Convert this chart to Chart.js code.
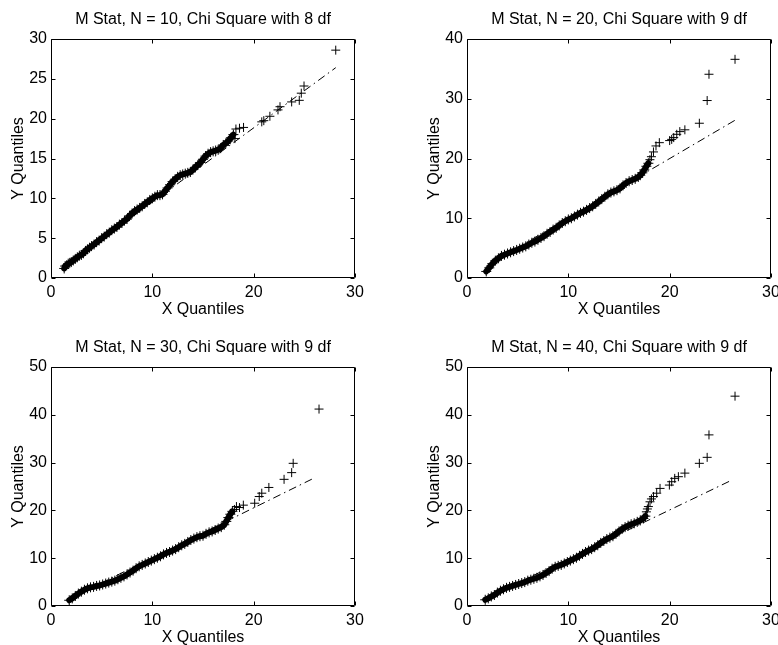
<!DOCTYPE html>
<html>
<head>
<meta charset="utf-8">
<script src="https://cdn.jsdelivr.net/npm/chart.js@4"></script>
<style>
  html, body { margin: 0; padding: 0; background: #fff; overflow: hidden; }
  .panel { position: absolute; }
</style>
</head>
<body>
<div class="panel" style="left:0;top:0"><canvas id="c10" width="389" height="320"></canvas></div>
<div class="panel" style="left:389px;top:0"><canvas id="c20" width="389" height="320"></canvas></div>
<div class="panel" style="left:0;top:320px"><canvas id="c30" width="389" height="328"></canvas></div>
<div class="panel" style="left:389px;top:320px"><canvas id="c40" width="389" height="328"></canvas></div>
<script>
// panel titles and axis limits
const titles = [
    "M Stat, N = 10, Chi Square with 8 df",
    "M Stat, N = 20, Chi Square with 9 df",
    "M Stat, N = 30, Chi Square with 9 df",
    "M Stat, N = 40, Chi Square with 9 df"
];
const xMax = 30;
const xStep = 10;
const yMax = [30, 40, 50, 50];
const yStep = [5, 10, 10, 10];

// N = 10 : dense part of the quantile cloud, then the sparse upper tail
const n10BandX = [1.3,1.4,1.55,1.7,1.85,2.0,2.2,2.4,2.6,2.8,3.0,3.2,3.4,3.6,3.8,4.0,4.25,4.5,4.75,5.0,5.25,5.5,5.75,6.0,6.25,6.5,6.75,7.0,7.25,7.5,7.75,8.0,8.25,8.5,8.75,9.0,9.25,9.5,9.75,10.0,10.25,10.5,10.75,11.0,11.25,11.5,11.75,12.0,12.25,12.5,12.75,13.0,13.25,13.5,13.75,14.0,14.25,14.5,14.75,15.0,15.25,15.5,15.75,16.0,16.25,16.5,16.75,17.0,17.25,17.5,17.75,18.0];
const n10BandY = [1.2,1.5,1.6,1.8,1.9,2.0,2.2,2.4,2.6,2.8,2.9,3.1,3.4,3.6,3.8,4.0,4.2,4.5,4.7,5.0,5.2,5.5,5.7,6.0,6.2,6.4,6.7,6.9,7.2,7.4,7.8,8.1,8.4,8.6,8.8,9.0,9.3,9.5,9.8,10.0,10.2,10.4,10.4,10.5,10.9,11.3,11.7,12.1,12.4,12.7,12.9,13.0,13.1,13.2,13.3,13.6,13.9,14.2,14.5,14.9,15.3,15.6,15.8,15.9,16.0,16.1,16.3,16.7,16.9,17.2,17.6,18.0];
const n10TailX = [18.15,18.25,18.6,19.0,20.8,21.0,21.6,22.4,22.6,23.75,24.5,24.7,24.97,28.1];
const n10TailY = [17.5,18.7,18.8,18.9,19.6,19.75,20.3,21.1,21.5,22.1,22.3,23.2,24.1,28.6];
const n10LineX = [1.3, 28.1];
const n10LineY = [1.4, 26.4];

// N = 20
const n20BandX = [1.9,2.2,2.5,2.8,3.1,3.4,3.7,4.0,4.3,4.6,4.9,5.2,5.5,5.8,6.1,6.4,6.7,7.0,7.3,7.6,7.9,8.2,8.5,8.8,9.1,9.4,9.7,10.0,10.3,10.6,10.9,11.2,11.5,11.8,12.1,12.4,12.7,13.0,13.3,13.6,13.9,14.2,14.5,14.8,15.1,15.4,15.7,16.0,16.3,16.6,16.9,17.1,17.3,17.5,17.7,17.9];
const n20BandY = [1.1,1.7,2.4,2.9,3.3,3.7,3.9,4.1,4.3,4.5,4.7,4.9,5.1,5.3,5.6,5.9,6.1,6.4,6.7,7.0,7.4,7.7,8.1,8.4,8.8,9.2,9.5,9.8,10.0,10.3,10.6,10.9,11.1,11.4,11.7,12.0,12.4,12.8,13.2,13.6,14.0,14.3,14.5,14.7,15.0,15.5,15.9,16.2,16.4,16.6,16.9,17.2,17.6,18.1,18.7,19.2];
const n20TailX = [18.05,18.2,18.4,18.65,18.98,20.0,20.2,20.4,20.7,21.0,21.5,22.93,23.7,23.88,26.45];
const n20TailY = [19.8,20.3,21.1,22.1,22.65,23.0,23.2,23.5,24.05,24.5,24.8,25.9,29.7,34.1,36.6];
const n20LineX = [1.9, 26.45];
const n20LineY = [2.0, 26.4];

// N = 30
const n30BandX = [1.8,2.1,2.4,2.7,3.0,3.3,3.6,3.9,4.2,4.5,4.8,5.1,5.4,5.7,6.0,6.3,6.6,6.9,7.2,7.5,7.8,8.1,8.4,8.7,9.0,9.3,9.6,9.9,10.2,10.5,10.8,11.1,11.4,11.7,12.0,12.3,12.6,12.9,13.2,13.5,13.8,14.1,14.4,14.7,15.0,15.3,15.6,15.9,16.2,16.5,16.8,17.1,17.3,17.5,17.7,17.9];
const n30BandY = [1.2,1.6,2.1,2.6,3.0,3.4,3.7,3.9,4.0,4.2,4.3,4.5,4.7,4.9,5.1,5.3,5.6,5.9,6.2,6.6,7.0,7.4,7.9,8.3,8.6,8.9,9.2,9.5,9.8,10.1,10.4,10.8,11.1,11.3,11.6,11.9,12.3,12.7,13.0,13.4,13.8,14.1,14.4,14.6,14.7,15.1,15.4,15.6,15.9,16.2,16.5,17.0,17.7,18.5,19.2,19.8];
const n30TailX = [18.1,18.3,18.6,18.98,20.1,20.55,20.8,21.5,23.0,23.75,23.9,26.45];
const n30TailY = [20.2,20.8,20.6,21.1,21.5,22.9,23.6,24.8,26.5,27.9,29.85,41.2];
const n30LineX = [1.8, 25.9];
const n30LineY = [1.5, 26.7];

// N = 40
const n40BandX = [1.8,2.1,2.4,2.7,3.0,3.3,3.6,3.9,4.2,4.5,4.8,5.1,5.4,5.7,6.0,6.3,6.6,6.9,7.2,7.5,7.8,8.1,8.4,8.7,9.0,9.3,9.6,9.9,10.2,10.5,10.8,11.1,11.4,11.7,12.0,12.3,12.6,12.9,13.2,13.5,13.8,14.1,14.4,14.7,15.0,15.3,15.6,15.9,16.2,16.5,16.8,17.1,17.4,17.6];
const n40BandY = [1.3,1.6,2.0,2.3,2.8,3.2,3.5,3.8,4.0,4.2,4.4,4.6,4.8,5.0,5.3,5.5,5.7,5.9,6.2,6.5,6.9,7.3,7.8,8.2,8.4,8.6,8.9,9.2,9.5,9.8,10.1,10.5,10.9,11.3,11.6,11.9,12.3,12.7,13.2,13.6,14.0,14.3,14.6,15.1,15.6,16.1,16.5,16.8,17.1,17.3,17.6,17.9,18.3,18.8];
const n40TailX = [17.7,17.8,17.9,18.06,18.2,18.4,18.72,19.05,19.97,20.2,20.5,20.86,21.5,22.93,23.7,23.88,26.45];
const n40TailY = [19.7,20.3,20.8,21.8,22.4,22.9,23.6,24.6,25.3,26.0,26.7,27.05,27.8,29.85,31.1,35.8,43.9];
const n40LineX = [1.8, 26.0];
const n40LineY = [1.55, 26.2];

const FONT = "'Liberation Sans', Arial, Helvetica, sans-serif";
const pts = (xs, ys) => xs.map((x, i) => ({ x: x, y: ys[i] }));

// matlab style box with inward ticks on all four sides
const matlabBox = {
    id: "matlabBox",
    afterDraw(chart) {
        const { ctx, chartArea: a, scales: { x, y } } = chart;
        const len = 4;
        const L = Math.round(a.left) + 0.5, R = Math.round(a.right) - 0.5;
        const T = Math.round(a.top) + 0.5, B = Math.round(a.bottom) - 0.5;
        ctx.save();
        ctx.strokeStyle = "#000";
        ctx.lineWidth = 1;
        ctx.beginPath();
        ctx.rect(L, T, R - L, B - T);
        x.ticks.forEach(t => {
            const px = Math.round(x.getPixelForValue(t.value)) + 0.5;
            ctx.moveTo(px, B); ctx.lineTo(px, B - len);
            ctx.moveTo(px, T); ctx.lineTo(px, T + len);
        });
        y.ticks.forEach(t => {
            const py = Math.round(y.getPixelForValue(t.value)) + 0.5;
            ctx.moveTo(L, py); ctx.lineTo(L + len, py);
            ctx.moveTo(R, py); ctx.lineTo(R - len, py);
        });
        ctx.stroke();
        ctx.restore();
    }
};

function makePanel(id, k, band, tail, line, padLeft, padRight, titleTop) {
    const ctx = document.getElementById(id).getContext("2d");
    new Chart(ctx, {
        type: "scatter",
        data: {
            datasets: [
                {
                    data: band,
                    showLine: true,
                    borderColor: "#000",
                    borderWidth: 6,
                    borderJoinStyle: "round",
                    borderCapStyle: "round",
                    pointStyle: "cross",
                    pointRadius: 5,
                    pointBorderWidth: 1,
                    pointBorderColor: "#000"
                },
                {
                    data: tail,
                    showLine: false,
                    pointStyle: "cross",
                    pointRadius: 4.5,
                    pointBorderWidth: 1,
                    pointBorderColor: "#000"
                },
                {
                    data: line,
                    showLine: true,
                    borderColor: "#000",
                    borderWidth: 1,
                    borderDash: [8, 4, 1.5, 4],
                    pointRadius: 0
                }
            ]
        },
        options: {
            responsive: false,
            animation: false,
            events: [],
            layout: { padding: { left: padLeft, right: padRight, top: 0, bottom: 0 } },
            plugins: {
                legend: { display: false },
                tooltip: { enabled: false },
                title: {
                    display: true,
                    fullSize: false,
                    align: "center",
                    text: titles[k],
                    color: "#000",
                    font: { family: FONT, size: 16, weight: "normal", lineHeight: 1.25 },
                    padding: { top: titleTop, bottom: 9 }
                }
            },
            scales: {
                x: {
                    type: "linear",
                    min: 0,
                    max: xMax,
                    grid: { display: false, drawTicks: false },
                    border: { display: false },
                    ticks: { stepSize: xStep, color: "#000", padding: 5, maxRotation: 0,
                             font: { family: FONT, size: 16 } },
                    title: { display: true, text: "X Quantiles", color: "#000",
                             font: { family: FONT, size: 16, lineHeight: 1.25 },
                             padding: { top: 0, bottom: 0 } },
                    afterFit: s => { s.height = 42; s.paddingLeft = 0; s.paddingRight = 0; }
                },
                y: {
                    type: "linear",
                    min: 0,
                    max: yMax[k],
                    grid: { display: false, drawTicks: false },
                    border: { display: false },
                    ticks: { stepSize: yStep[k], color: "#000", padding: 4,
                             font: { family: FONT, size: 16 } },
                    title: { display: true, text: "Y Quantiles", color: "#000",
                             font: { family: FONT, size: 16, lineHeight: 1.25 },
                             padding: { top: 9, bottom: 9 } },
                    afterFit: s => { s.width = 51; s.paddingTop = 0; s.paddingBottom = 0; }
                }
            }
        },
        plugins: [matlabBox]
    });
}

makePanel("c10", 0, pts(n10BandX, n10BandY), pts(n10TailX, n10TailY), pts(n10LineX, n10LineY), 0, 34, 10);
makePanel("c20", 1, pts(n20BandX, n20BandY), pts(n20TailX, n20TailY), pts(n20LineX, n20LineY), 27, 7, 10);
makePanel("c30", 2, pts(n30BandX, n30BandY), pts(n30TailX, n30TailY), pts(n30LineX, n30LineY), 0, 34, 18);
makePanel("c40", 3, pts(n40BandX, n40BandY), pts(n40TailX, n40TailY), pts(n40LineX, n40LineY), 27, 7, 18);
</script>
</body>
</html>
